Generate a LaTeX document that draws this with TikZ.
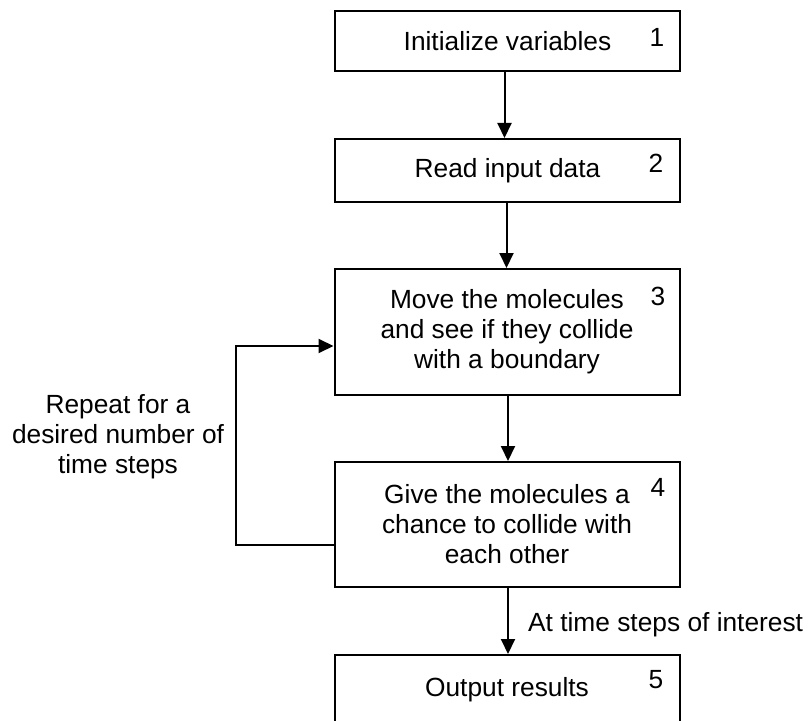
\documentclass[tikz,border=0pt]{standalone}
\usepackage{fontspec}
\setmainfont{Liberation Sans}
\usetikzlibrary{arrows.meta}
\begin{document}
\begin{tikzpicture}[x=1bp,y=-1bp,
  every node/.style={font=\fontsize{26.3bp}{30bp}\selectfont, inner sep=0pt},
  stepbox/.style={draw, line width=2bp, minimum width=345bp, align=center},
  numlbl/.style={},
  conn/.style={line width=2bp, -{Triangle[length=15bp,width=14bp]}},
  plainline/.style={line width=2bp}]
\useasboundingbox (0,0) rectangle (810,721);
\clip (0,0) rectangle (810,721);
\node[stepbox, minimum height=60bp] (b1) at (507.5,41) {Initialize variables};
\node[stepbox, minimum height=63bp] (b2) at (507.5,170.5) {Read input data};
\node[stepbox, minimum height=126bp] (b3) at (507,332) {Move the molecules\\and see if they collide\\with a boundary};
\node[stepbox, minimum height=125bp] (b4) at (507,524.5) {Give the molecules a\\chance to collide with\\each other};
\node[stepbox, minimum height=70bp] (b5) at (507,690) {Output results};
\node[numlbl] (n1) at (657,37) {1};
\node[numlbl] (n2) at (656,163) {2};
\node[numlbl] (n3) at (658,296) {3};
\node[numlbl] (n4) at (658,487) {4};
\node[numlbl] (n5) at (656,680) {5};
\draw[conn] ([xshift=-3bp]b1.south) -- ([xshift=-3bp]b1.south |- b2.north);
\draw[conn] ([xshift=-1bp]b2.south) -- ([xshift=-1bp]b2.south |- b3.north);
\draw[conn] ([xshift=1bp]b3.south) -- ([xshift=1bp]b3.south |- b4.north);
\draw[conn] ([xshift=1bp]b4.south) -- ([xshift=1bp]b4.south |- b5.north);
\coordinate (lb) at (236,545);
\coordinate (lt) at (236,346);
\draw[conn] (b4.west |- lb) -- (lb) -- (lt) -- (b3.west |- lt);
\node[align=center] (rep) at (118,437) {Repeat for a\\desired number of\\time steps};
\node[anchor=west] (ats) at (528,625) {At time steps of interest};
\end{tikzpicture}
\end{document}
